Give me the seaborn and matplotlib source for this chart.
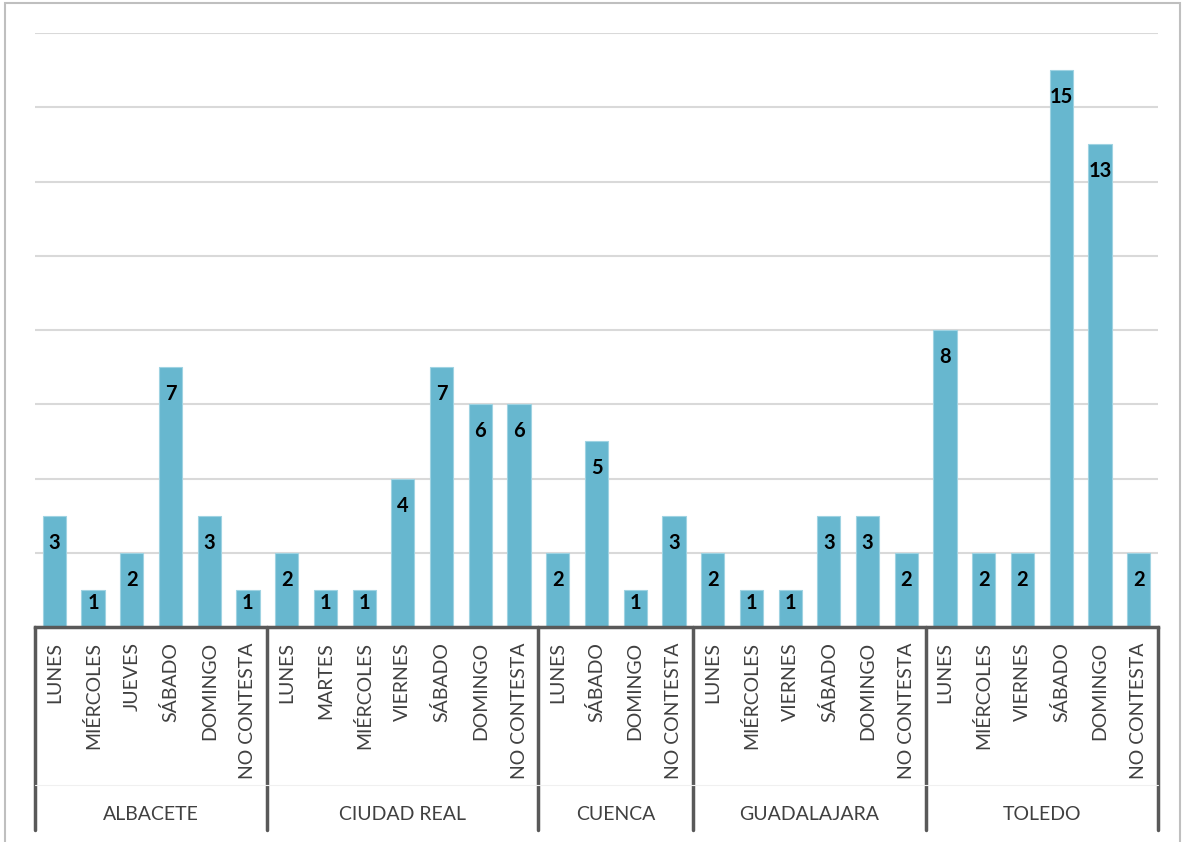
import matplotlib
matplotlib.use("Agg")
import matplotlib.pyplot as plt
import matplotlib.transforms as mtransforms
from matplotlib.patches import Rectangle
import seaborn as sns
import pandas as pd

# Data
provincias = ["ALBACETE", "CIUDAD REAL", "CUENCA", "GUADALAJARA", "TOLEDO"]
dias_albacete = ["LUNES", "MIÉRCOLES", "JUEVES", "SÁBADO", "DOMINGO", "NO CONTESTA"]
vals_albacete = [3, 1, 2, 7, 3, 1]
dias_ciudad_real = ["LUNES", "MARTES", "MIÉRCOLES", "VIERNES", "SÁBADO", "DOMINGO", "NO CONTESTA"]
vals_ciudad_real = [2, 1, 1, 4, 7, 6, 6]
dias_cuenca = ["LUNES", "SÁBADO", "DOMINGO", "NO CONTESTA"]
vals_cuenca = [2, 5, 1, 3]
dias_guadalajara = ["LUNES", "MIÉRCOLES", "VIERNES", "SÁBADO", "DOMINGO", "NO CONTESTA"]
vals_guadalajara = [2, 1, 1, 3, 3, 2]
dias_toledo = ["LUNES", "MIÉRCOLES", "VIERNES", "SÁBADO", "DOMINGO", "NO CONTESTA"]
vals_toledo = [8, 2, 2, 15, 13, 2]

dias = [dias_albacete, dias_ciudad_real, dias_cuenca, dias_guadalajara, dias_toledo]
valores = [vals_albacete, vals_ciudad_real, vals_cuenca, vals_guadalajara, vals_toledo]

rows = []
for prov, ds, vs in zip(provincias, dias, valores):
    for d, v in zip(ds, vs):
        rows.append({"provincia": prov, "dia": d, "clave": prov + "|" + d, "valor": v})
df = pd.DataFrame(rows)

sns.set_theme(style="white")
plt.rcParams["font.family"] = ["Lato", "DejaVu Sans"]

W, H = 1184, 842
fig = plt.figure(figsize=(W / 100, H / 100), dpi=100)
ax_left, ax_right, ax_top, ax_bottom = 35, 1158, 33, 627
ax = fig.add_axes([ax_left / W, 1 - ax_bottom / H, (ax_right - ax_left) / W, (ax_bottom - ax_top) / H])

bar_color = "#67B7CF"
sns.barplot(data=df, x="clave", y="valor", order=df["clave"].tolist(), color=bar_color,
            width=0.6, edgecolor="#9fd3e2", linewidth=0.8, saturation=1, ax=ax, zorder=2)

ax.set_ylim(0, 16)
ax.set_xlim(-0.5, len(df) - 0.5)
ax.set_yticks(range(0, 17, 2))
ax.set_yticklabels([])
ax.yaxis.grid(True, color="#d9d9d9", linewidth=1.5, zorder=0)
ax.set_axisbelow(True)
ax.tick_params(axis="both", length=0)
for s in ["top", "right", "left"]:
    ax.spines[s].set_visible(False)
ax.spines["bottom"].set_color("#595959")
ax.spines["bottom"].set_linewidth(2.5)
ax.set_xlabel("")
ax.set_ylabel("")

ax.set_xticks(range(len(df)))
ax.set_xticklabels(df["dia"], rotation=90, fontsize=14, color="#404040", va="top")
ax.tick_params(axis="x", pad=11)

# value labels (inside end)
for i, v in enumerate(df["valor"]):
    y = max(v - 0.73, 0.64)
    ax.text(i, y, str(v), ha="center", va="center", fontsize=14.5, fontweight="bold", color="black", zorder=3)

# group separators and province names
trans = mtransforms.blended_transform_factory(ax.transData, ax.transAxes)
sep_bottom = -(830 - ax_bottom) / (ax_bottom - ax_top)
start = -0.5
bounds = [start]
for vs in valores:
    start += len(vs)
    bounds.append(start)
for b in bounds:
    ax.plot([b, b], [0, sep_bottom], transform=trans, color="#595959", linewidth=2.5, clip_on=False)
ax.plot([bounds[0], bounds[-1]], [-(785 - ax_bottom) / (ax_bottom - ax_top)] * 2, transform=trans,
        color="#f0f0f0", linewidth=0.8, clip_on=False)
for prov, a, b in zip(provincias, bounds[:-1], bounds[1:]):
    ax.text((a + b) / 2, -(815 - ax_bottom) / (ax_bottom - ax_top), prov, transform=trans,
            ha="center", va="center", fontsize=14, color="#404040")

# chart frame
fig.patches.append(Rectangle((5 / W, -0.01), (1180 - 5) / W, 1.01 - 3 / H, transform=fig.transFigure,
                             fill=False, edgecolor="#bfbfbf", linewidth=1.5))

fig.savefig("out.png", dpi=100)
